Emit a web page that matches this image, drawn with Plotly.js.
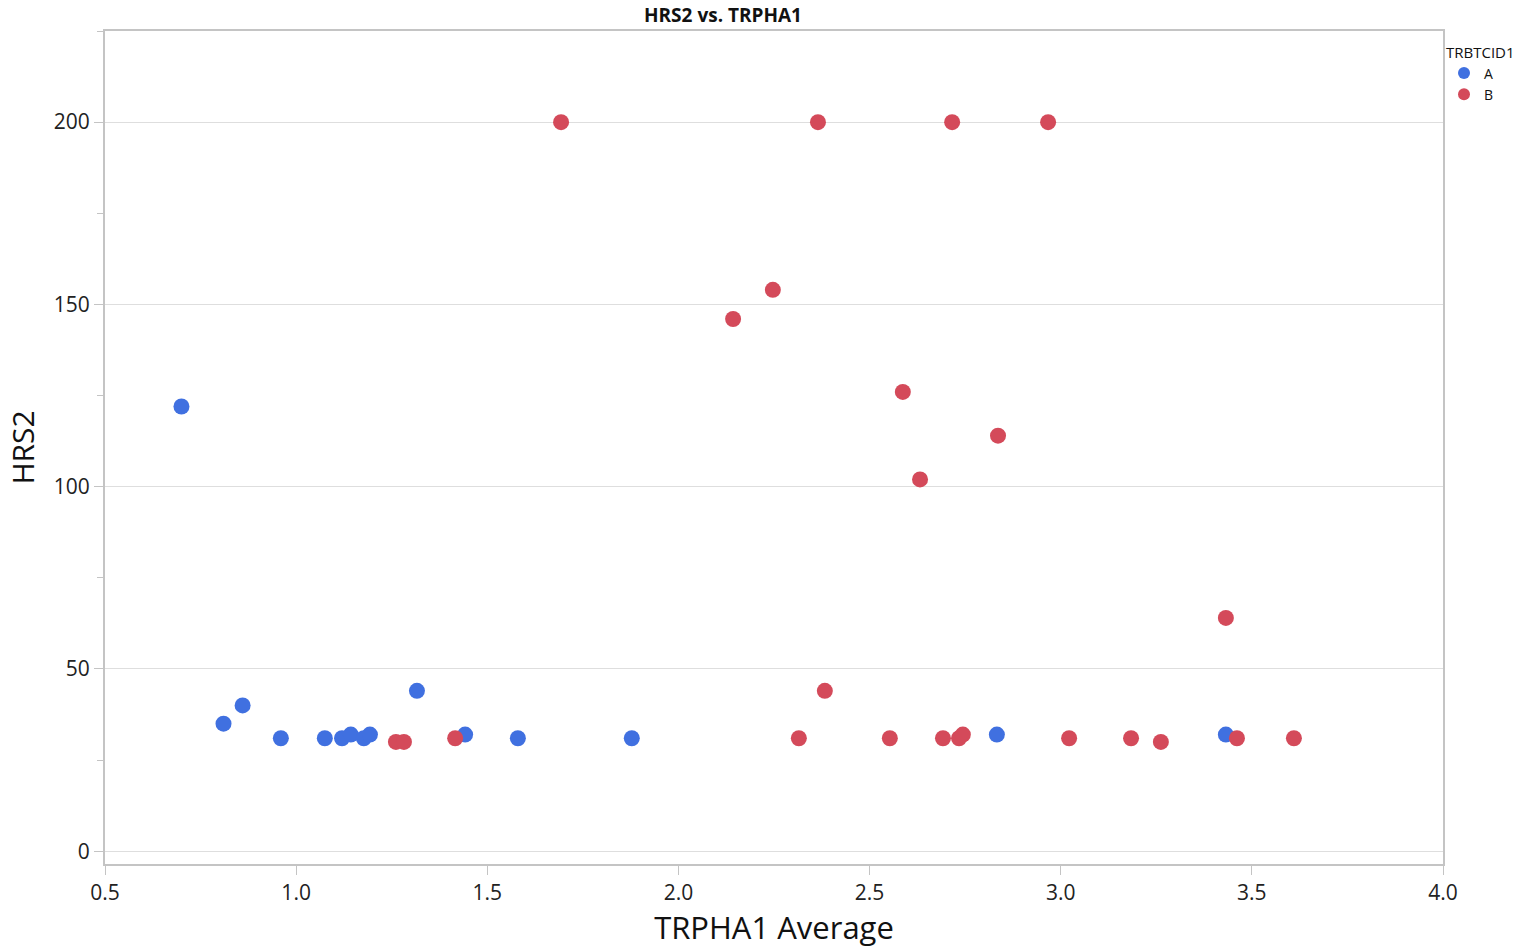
<!DOCTYPE html>
<html>
<head>
<meta charset="utf-8">
<script src="https://cdn.plot.ly/plotly-3.0.1.min.js"></script>
<style>
  html, body { margin: 0; padding: 0; background: #fff; }
  #chart { width: 1522px; height: 948px; }
</style>
</head>
<body>
<div id="chart"></div>
<script>
// TRPHA1 average vs HRS2, grouped by TRBTCID1
const groupA_x = [0.70, 0.81, 0.86, 0.96, 1.075, 1.12, 1.143, 1.177, 1.193, 1.316, 1.442, 1.58, 1.878, 2.833, 3.432];
const groupA_y = [122, 35, 40, 31, 31, 31, 32, 31, 32, 44, 32, 31, 31, 32, 32];

const groupB_x = [1.693, 2.365, 2.716, 2.967, 2.143, 2.247, 2.587, 2.836, 2.632, 3.432, 2.383,
                  1.261, 1.282, 1.416, 2.315, 2.553, 2.692, 2.734, 2.744, 3.022, 3.184, 3.262, 3.461, 3.610];
const groupB_y = [200, 200, 200, 200, 146, 154, 126, 114, 102, 64, 44,
                  30, 30, 31, 31, 31, 31, 31, 32, 31, 31, 30, 31, 31];

const groupNames = ['A', 'B'];
const groupColors = ['#4070E0', '#D44A5A'];

const FONT = '"Open Sans", "Noto Sans", sans-serif';
const lineGray = '#c4c4c4';
const gridGray = '#dedede';

const traces = [
  { x: groupA_x, y: groupA_y, name: groupNames[0] },
  { x: groupB_x, y: groupB_y, name: groupNames[1] }
].map((t, i) => ({
  type: 'scatter',
  mode: 'markers',
  x: t.x,
  y: t.y,
  name: t.name,
  marker: { size: 16, color: groupColors[i], line: { width: 0 } },
  hoverinfo: 'x+y+name'
}));

const layout = {
  width: 1522,
  height: 948,
  paper_bgcolor: '#ffffff',
  plot_bgcolor: '#ffffff',
  margin: { l: 105, r: 79, t: 31, b: 84, pad: 0 },
  font: { family: FONT, color: '#222' },
  title: {
    text: '<b>HRS2 vs. TRPHA1</b>',
    font: { family: FONT, size: 19, color: '#111' },
    xref: 'container', yref: 'container',
    x: 723 / 1522, xanchor: 'center',
    y: 1 - 15 / 948, yanchor: 'middle'
  },
  xaxis: {
    range: [0.5, 4.0],
    tick0: 0.5, dtick: 0.5,
    tickformat: '.1f',
    showgrid: false,
    zeroline: false,
    showline: true, mirror: true,
    linecolor: lineGray, linewidth: 2,
    ticks: 'outside', ticklen: 9, tickcolor: lineGray, tickwidth: 1,
    tickfont: { family: FONT, size: 21, color: '#222' },
    title: { text: 'TRPHA1 Average', font: { family: FONT, size: 31, color: '#111' }, standoff: 10 }
  },
  yaxis: {
    range: [-3.5, 225],
    tick0: 0, dtick: 50,
    showgrid: true, gridcolor: gridGray, gridwidth: 1,
    zeroline: false,
    showline: true, mirror: true,
    linecolor: lineGray, linewidth: 2,
    ticks: 'outside', ticklen: 9, tickcolor: lineGray, tickwidth: 1,
    minor: { dtick: 25, ticks: 'outside', ticklen: 6, tickcolor: lineGray, showgrid: false },
    tickfont: { family: FONT, size: 21, color: '#222' },
    title: { text: 'HRS2', font: { family: FONT, size: 30, color: '#111' }, standoff: 10 }
  },
  showlegend: true,
  legend: {
    title: { text: 'TRBTCID1', font: { family: FONT, size: 15, color: '#111' } },
    font: { family: FONT, size: 14, color: '#111' },
    xref: 'container', yref: 'container',
    x: 1444 / 1522, xanchor: 'left',
    y: 1 - 38 / 948, yanchor: 'top',
    bgcolor: 'rgba(0,0,0,0)',
    itemsizing: 'constant',
    tracegroupgap: 0
  }
};

Plotly.newPlot('chart', traces, layout, { displayModeBar: false, responsive: false });
</script>
</body>
</html>
